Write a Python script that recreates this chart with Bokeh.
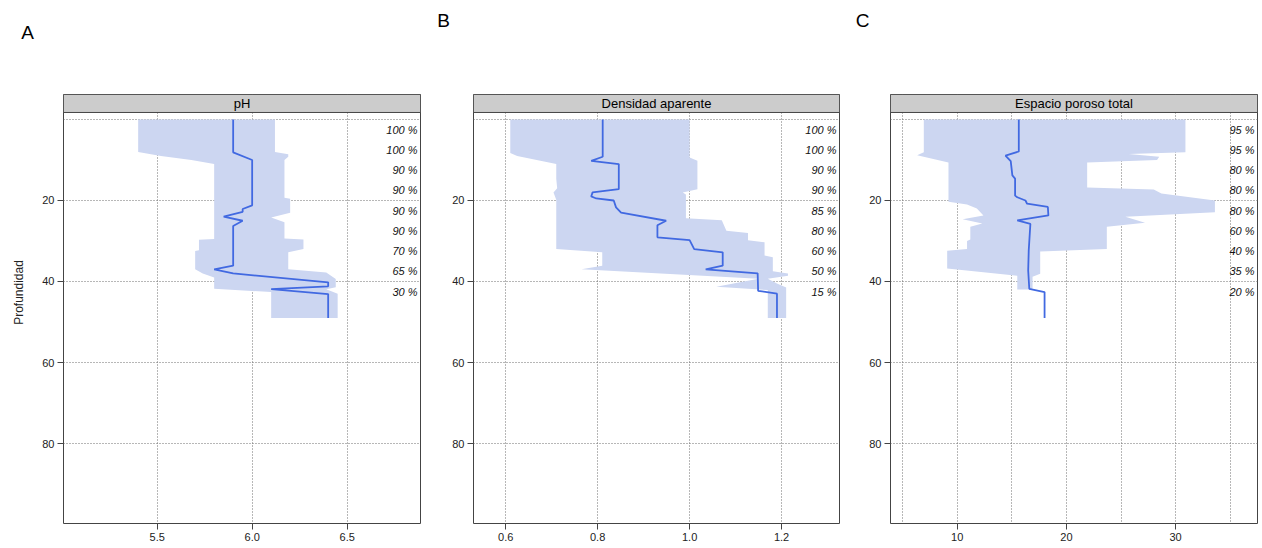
import math
from bokeh.plotting import figure
from bokeh.layouts import row, column
from bokeh.models import Range1d, FixedTicker, ColumnDataSource, PrintfTickFormatter
from bokeh.core.properties import value
from bokeh.embed import file_html
from bokeh.resources import INLINE

# ---------------- data ----------------
# Panel A : pH
ph_lo_depth = [0, 8, 9, 10, 11, 29.5, 29.7, 32.3, 32.5, 37, 38, 39, 41.8, 42.6, 49]
ph_lo_val   = [5.40, 5.40, 5.52, 5.68, 5.80, 5.80, 5.72, 5.72, 5.70, 5.70, 5.74, 5.80, 5.80, 6.10, 6.10]
ph_hi_depth = [0, 8, 8.6, 9.2, 10, 19.3, 19.6, 23, 24.2, 25.4, 29.4, 29.6, 32, 32.8, 37, 37.8, 39.4, 41.4, 41.9, 43, 49]
ph_hi_val   = [6.12, 6.12, 6.19, 6.19, 6.17, 6.17, 6.20, 6.20, 6.10, 6.17, 6.17, 6.27, 6.27, 6.19, 6.19, 6.39, 6.44, 6.44, 6.39, 6.45, 6.45]
ph_med_depth = [0, 8.1, 10, 21.2, 22.1, 22.8, 24, 25, 26.3, 36.1, 37, 38, 40.2, 41.2, 41.9, 43.1, 49]
ph_med_val   = [5.90, 5.90, 6.00, 6.00, 5.95, 5.95, 5.85, 5.95, 5.90, 5.90, 5.80, 5.90, 6.40, 6.40, 6.10, 6.40, 6.40]
ph_pct = ["100 %", "100 %", "90 %", "90 %", "90 %", "90 %", "70 %", "65 %", "30 %"]

# Panel B : Densidad aparente
da_lo_depth = [0, 8.3, 9, 11, 14.7, 17, 18, 19.8, 32, 32.8, 36.1, 37, 39.3, 41.3, 42.1, 49]
da_lo_val   = [0.61, 0.61, 0.625, 0.71, 0.71, 0.712, 0.704, 0.71, 0.71, 0.81, 0.81, 0.765, 1.15, 1.058, 1.17, 1.17]
da_hi_depth = [0, 9.4, 10.2, 17.2, 18, 18.5, 24.4, 24.9, 27.5, 28, 29.8, 30.3, 33.6, 34, 37.5, 38, 38.6, 39.3, 40.5, 41.5, 49]
da_hi_val   = [1.0, 1.0, 1.017, 1.017, 0.985, 0.992, 0.992, 1.07, 1.08, 1.127, 1.127, 1.163, 1.163, 1.181, 1.181, 1.214, 1.214, 1.17, 1.19, 1.21, 1.21]
da_med_depth = [0, 9.2, 10.2, 11, 17.2, 18, 19, 19.5, 20, 21.7, 23, 25, 26.1, 29.1, 29.8, 32, 32.8, 36.1, 37, 38, 42.3, 43, 49]
da_med_val   = [0.811, 0.811, 0.786, 0.846, 0.846, 0.789, 0.786, 0.797, 0.835, 0.840, 0.851, 0.949, 0.930, 0.930, 1.0, 1.01, 1.072, 1.072, 1.035, 1.148, 1.149, 1.19, 1.19]
da_pct = ["100 %", "100 %", "90 %", "90 %", "85 %", "80 %", "60 %", "50 %", "15 %"]

# Panel C : Espacio poroso total
ep_lo_depth = [0, 8.1, 8.8, 10.6, 20.3, 21, 22, 23.7, 24.6, 25.7, 26.5, 29.6, 30, 32, 32.4, 36.8, 38.6, 42]
ep_lo_val   = [6.94, 6.94, 6.33, 9.2, 9.2, 10.9, 11.8, 12.4, 10.5, 12.3, 11.2, 11.2, 10.9, 10.9, 9.08, 9.08, 15.5, 15.5]
ep_hi_depth = [0, 8.1, 8.5, 9.2, 10, 10.6, 16.8, 17.3, 18.3, 20.0, 22.9, 24.0, 25.5, 26.5, 32.0, 32.6, 38.1, 38.8, 42]
ep_hi_val   = [30.9, 30.9, 25.7, 28.5, 28.3, 21.9, 21.9, 28.0, 28.7, 33.6, 33.6, 25.4, 27.2, 23.7, 23.7, 17.6, 17.6, 16.9, 16.9]
ep_med_depth = [0, 7.9, 8.9, 10.3, 13.8, 14.6, 18.8, 19.2, 20, 20.8, 21.6, 23.7, 24.9, 25.8, 32.3, 37.3, 41.8, 42.6, 49]
ep_med_val   = [15.64, 15.64, 14.42, 14.9, 15.05, 15.3, 15.3, 15.5, 16.25, 16.4, 18.3, 18.35, 15.5, 16.7, 16.55, 16.5, 16.6, 18.0, 18.0]
ep_pct = ["95 %", "95 %", "80 %", "80 %", "80 %", "60 %", "40 %", "35 %", "20 %"]

pct_depths = [2.5, 7.5, 12.5, 17.5, 22.5, 27.5, 32.5, 37.5, 42.5]
depth_ticks = [20, 40, 60, 80]
depth_grid = [0, 20, 40, 60, 80]
panel_letters = ["A", "B", "C"]
y_title = "Profundidad"

# ---------------- style ----------------
FONT = "Liberation Sans"
BAND = "#ccd6f1"
LINE = "#4169e1"
FRAME = "#444444"
GRID = "#6f6f6f"
Y_BOTTOM = 99.75
STRIP_TOP = -6.17
STRIP_BOT = -1.73
FRAME_H = 429
HEADER_H = 94
W = 1262
H = 548
SIDE_W = 30


def blank(width, height, xr, yr):
    f = figure(frame_width=width, frame_height=height, x_range=Range1d(*xr), y_range=Range1d(*yr),
               x_axis_type=None, y_axis_type=None, output_backend="svg", toolbar_location=None,
               min_border_left=0, min_border_right=0, min_border_top=0, min_border_bottom=0)
    f.title.visible = False
    f.outline_line_color = None
    f.background_fill_color = "white"
    f.border_fill_color = "white"
    return f


def panel(title, xr, xticks, xfmt, gticks, lo_d, lo_v, hi_d, hi_v, md_d, md_v, pct,
          frame_w, bl, br):
    p = figure(frame_width=frame_w, frame_height=FRAME_H,
               x_range=Range1d(*xr), y_range=Range1d(Y_BOTTOM, STRIP_TOP),
               output_backend="svg", toolbar_location=None,
               min_border_left=bl, min_border_right=br,
               min_border_top=0, min_border_bottom=25)
    p.title.visible = False
    p.background_fill_color = "white"
    p.border_fill_color = "white"
    p.outline_line_color = FRAME
    p.outline_line_width = 1

    # grids
    p.xgrid.ticker = FixedTicker(ticks=gticks)
    p.ygrid.ticker = FixedTicker(ticks=depth_grid)
    for g in (p.xgrid, p.ygrid):
        g.grid_line_color = GRID
        g.grid_line_dash = "1 2"
        g.grid_line_width = 1

    # axes
    p.xaxis.ticker = FixedTicker(ticks=xticks)
    p.xaxis.formatter = PrintfTickFormatter(format=xfmt)
    p.yaxis.ticker = FixedTicker(ticks=depth_ticks)
    for ax in (p.xaxis[0], p.yaxis[0]):
        ax.axis_line_color = None
        ax.major_tick_out = 6
        ax.major_tick_in = 0
        ax.minor_tick_out = 0
        ax.minor_tick_in = 0
        ax.major_tick_line_color = FRAME
        ax.major_label_text_font = FONT
        ax.major_label_text_font_size = "11px"
        ax.major_label_text_color = "#222222"
        ax.major_label_standoff = 3

    # band + median
    p.patch(x=list(lo_v) + list(hi_v)[::-1], y=list(lo_d) + list(hi_d)[::-1],
            fill_color=BAND, line_color=None)
    p.line(x=md_v, y=md_d, line_color=LINE, line_width=1.8)

    # percent labels
    src = ColumnDataSource(dict(x=[xr[1]] * len(pct), y=pct_depths, t=pct))
    p.text(x="x", y="y", text="t", source=src, x_offset=-3, text_align="right",
           text_baseline="middle", text_font=value(FONT), text_font_size="11px",
           text_font_style="italic", text_color="#111111")

    # strip
    p.quad(left=[xr[0]], right=[xr[1]], top=[STRIP_TOP], bottom=[STRIP_BOT],
           fill_color="#cccccc", line_color=FRAME, line_width=1)
    p.text(x=[(xr[0] + xr[1]) / 2], y=[(STRIP_TOP + STRIP_BOT) / 2], text=[title],
           text_align="center", text_baseline="middle", text_font=value(FONT),
           text_font_size="13px", text_color="#000000")
    return p


# header with panel letters (pixel coordinates of the page)
header = blank(W, HEADER_H, (0, W), (HEADER_H, 0))
header.text(x=[27, 443, 862], y=[32, 20, 20], text=panel_letters, text_align="center",
            text_baseline="middle", text_font=value(FONT), text_font_size="19px",
            text_color="#000000")

# side strip with the y title
side = blank(SIDE_W, H - HEADER_H, (0, SIDE_W), (H, HEADER_H))
side.text(x=[18], y=[292], text=[y_title], angle=math.pi / 2, text_align="center",
          text_baseline="middle", text_font=value(FONT), text_font_size="12px",
          text_color="#222222")

pA = panel("pH", (5.007, 6.886), [5.5, 6.0, 6.5], "%.1f", [5.5, 6.0, 6.5],
           ph_lo_depth, ph_lo_val, ph_hi_depth, ph_hi_val, ph_med_depth, ph_med_val, ph_pct,
           357, 63 - SIDE_W, 8)
pB = panel("Densidad aparente", (0.530, 1.326), [0.6, 0.8, 1.0, 1.2], "%.1f", [0.6, 0.8, 1.0, 1.2],
           da_lo_depth, da_lo_val, da_hi_depth, da_hi_val, da_med_depth, da_med_val, da_pct,
           366, 45, 8)
pC = panel("Espacio poroso total", (3.89, 37.5), [10, 20, 30], "%d", [5, 10, 15, 20, 25, 30, 35],
           ep_lo_depth, ep_lo_val, ep_hi_depth, ep_hi_val, ep_med_depth, ep_med_val, ep_pct,
           367, 43, 5)

layout = column(header, row(side, pA, pB, pC))
open("out.html", "w").write(file_html(layout, INLINE))
